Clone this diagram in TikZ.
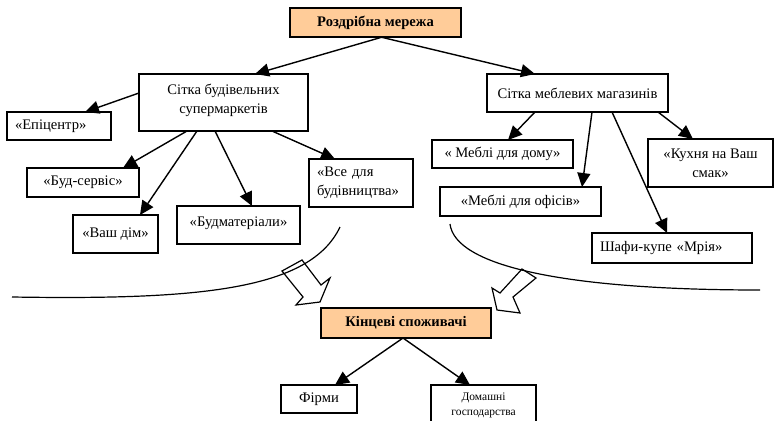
\documentclass[tikz,border=0pt]{standalone}
\usepackage{fontspec}
\setmainfont{Liberation Serif}
\usepackage{tikz}
\usetikzlibrary{arrows.meta,calc,positioning}
\definecolor{peach}{RGB}{255,204,153}
\tikzstyle{element}=[
  draw=black,
  font={\fontsize{14.6}{19}\selectfont},
  inner sep=0pt,
  outer sep=0pt,
  line width=1.5pt,
  rectangle,
  text centered,
  align=center,
  fill=white,
]
\tikzstyle{mainelement}=[
  element,
  fill=peach,
  font={\fontsize{14.6}{18}\selectfont\bfseries},
]
\tikzstyle{leftelement}=[
  element,
  align=left,
  inner xsep=8pt,
]
\tikzstyle{arrow}=[
  ->,
  draw=black,
  line width=1.4pt,
]
\tikzstyle{blockarrow}=[
  draw=black,
  fill=white,
  line width=1.2pt,
  line join=miter,
]
\tikzstyle{border}=[
  draw=black,
  line width=1.2pt,
]
\tikzset{
  >={Triangle[length=14pt,width=13pt]},
  x=1pt, y=-1pt,
}
\begin{document}
\begin{tikzpicture}
      \useasboundingbox (0,0) rectangle (775,420);
      %%
      \node (retail) [mainelement, minimum width=171, minimum height=29] at (375.5,22.5) {Роздрібна мережа};
      \node (buildnet) [element, minimum width=169, minimum height=57, text depth=8pt] at (223.5,102.5) {Сітка будівельних\\супермаркетів};
      \node (furnnet) [element, minimum width=181, minimum height=38] at (577.5,93) {Сітка меблевих магазинів};
      %%
      \node (epicentr) [leftelement, minimum width=104, minimum height=28, text width=88] at (59,126) {«Епіцентр»};
      \node (budservis) [element, minimum width=112, minimum height=29] at (83,182.5) {«Буд-сервіс»};
      \node (vashdim) [element, minimum width=85, minimum height=38] at (115.5,234) {«Ваш дім»};
      \node (budmat) [element, minimum width=123, minimum height=38, text depth=6pt] at (238.5,225) {«Будматеріали»};
      \node (vsedlia) [leftelement, minimum width=104, minimum height=48, text width=88] at (361,183) {«Все для\\будівництва»};
      %%
      \node (homefurn) [element, minimum width=141, minimum height=28] at (502.5,154) {« Меблі для дому»};
      \node (officefurn) [element, minimum width=161, minimum height=29] at (520.5,201.5) {«Меблі для офісів»};
      \node (kitchen) [element, minimum width=125, minimum height=48] at (710.5,163) {«Кухня на Ваш\\смак»};
      \node (shafy) [leftelement, minimum width=160, minimum height=30, text width=144] at (672,248) {Шафи-купе «Мрія»};
      %%
      \node (final) [mainelement, minimum width=170, minimum height=30] at (406,323) {Кінцеві споживачі};
      \node (firms) [element, minimum width=76, minimum height=28] at (319,399) {Фірми};
      \node (households) [element, minimum width=105, minimum height=40, font={\fontsize{11.5}{15}\selectfont}] at (483.5,405) {Домашні\\господарства};
      %%
      \draw [arrow] ([xshift=7]retail.south) -- ([xshift=31.5]buildnet.north);
      \draw [arrow] ([xshift=5]retail.south) -- ([xshift=-42.5]furnnet.north);
      \draw [arrow] ([yshift=9.5]buildnet.west) -- ([xshift=26]epicentr.north);
      \draw [arrow] ([xshift=-36.5]buildnet.south) -- ([xshift=40]budservis.north);
      \draw [arrow] ([xshift=-26.5]buildnet.south) -- ([xshift=24.5]vashdim.north);
      \draw [arrow] ([xshift=-8.5]buildnet.south) -- ([xshift=13.5]budmat.north);
      \draw [arrow] ([xshift=48.5]buildnet.south) -- ([xshift=-26]vsedlia.north);
      \draw [arrow] ([xshift=-42.5]furnnet.south) -- ([xshift=5.5]homefurn.north);
      \draw [arrow] ([xshift=14.5]furnnet.south) -- ([xshift=61.5]officefurn.north);
      \draw [arrow] ([xshift=34.5]furnnet.south) -- ([xshift=-5]shafy.north);
      \draw [arrow] ([xshift=80.5]furnnet.south) -- ([xshift=-17.5]kitchen.north);
      \draw [arrow] ([xshift=-3]final.south) -- ([xshift=16]firms.north);
      \draw [arrow] ([xshift=-3]final.south) -- ([xshift=-13.5]households.north);
      %% boundaries and flows
      \draw [blockarrow] (282,271) -- (302,260) -- (321,285) -- (330,278) -- (320,302) -- (296,305) -- (303,297) -- cycle;
      \draw [blockarrow] (522,269) -- (536,278) -- (513,297) -- (520,313) -- (497,310) -- (492,288) -- (500,293) -- cycle;
      \draw [border] (340,227) .. controls (310,290) and (200,300) .. (12,297);
      \draw [border] (450,224) .. controls (455,265) and (560,290) .. (760,290);
    \end{tikzpicture}
\end{document}
